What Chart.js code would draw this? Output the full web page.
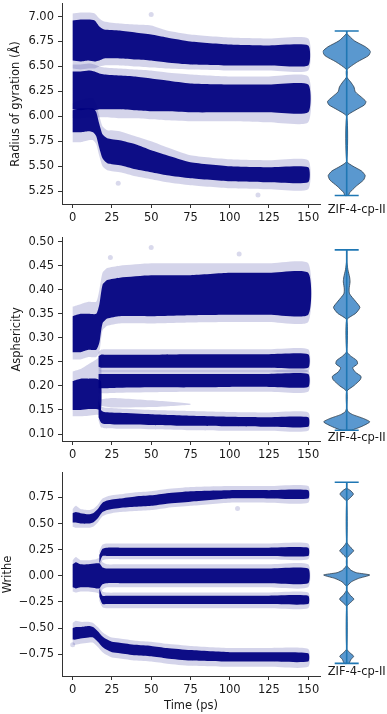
<!DOCTYPE html>
<html lang="en">
<head>
<meta charset="UTF-8">
<title>ZIF-4-cp-II</title>
<script src="https://cdn.jsdelivr.net/npm/chart.js"></script>
<style>
    body { margin: 0; background: #fff; }
    #fig { position: relative; width: 387px; height: 714px; overflow: hidden; }
    #fig canvas { position: absolute; }
</style>
</head>
<body>
<div id="fig"></div>
<script>
// ---- axes ----
const timeTicks = [0, 25, 50, 75, 100, 125, 150];
const rgTicks = [5.25, 5.50, 5.75, 6.00, 6.25, 6.50, 6.75, 7.00];
const aspTicks = [0.10, 0.15, 0.20, 0.25, 0.30, 0.35, 0.40, 0.45, 0.50];
const wrTicks = [-0.75, -0.50, -0.25, 0.00, 0.25, 0.50, 0.75];
const violinLabel = 'ZIF-4-cp-II';

// ---- radius of gyration: three states (dense core + sparse halo) ----
const rgA_t      = [0, 5, 10, 14, 17, 20, 30, 40, 50, 60, 75, 100, 125, 150];
const rgA_hi     = [6.96, 6.97, 6.97, 6.96, 6.90, 6.87, 6.86, 6.84, 6.82, 6.79, 6.75, 6.72, 6.71, 6.71];
const rgA_lo     = [6.56, 6.55, 6.56, 6.55, 6.56, 6.58, 6.58, 6.57, 6.56, 6.54, 6.52, 6.51, 6.51, 6.51];
const rgA_hiHalo = [7.03, 7.04, 7.04, 7.03, 6.98, 6.95, 6.93, 6.92, 6.91, 6.86, 6.82, 6.79, 6.78, 6.78];
const rgA_loHalo = [6.48, 6.47, 6.48, 6.48, 6.50, 6.51, 6.51, 6.50, 6.49, 6.48, 6.47, 6.46, 6.46, 6.46];

const rgB_t      = [0, 5, 10, 14, 17, 20, 30, 40, 50, 60, 75, 100, 125, 150];
const rgB_hi     = [6.45, 6.45, 6.46, 6.45, 6.43, 6.42, 6.41, 6.40, 6.38, 6.36, 6.33, 6.32, 6.32, 6.32];
const rgB_lo     = [6.07, 6.06, 6.07, 6.06, 6.07, 6.07, 6.07, 6.06, 6.05, 6.05, 6.04, 6.04, 6.04, 6.04];
const rgB_hiHalo = [6.52, 6.52, 6.53, 6.52, 6.50, 6.49, 6.48, 6.47, 6.46, 6.44, 6.42, 6.40, 6.40, 6.40];
const rgB_loHalo = [5.98, 5.98, 5.99, 5.98, 5.99, 5.99, 5.98, 5.98, 5.97, 5.96, 5.95, 5.95, 5.94, 5.94];

const rgC_t      = [0, 5, 10, 13, 15, 17, 19, 22, 25, 30, 40, 50, 60, 75, 100, 125, 150];
const rgC_hi     = [6.06, 6.08, 6.08, 6.08, 6.04, 5.92, 5.82, 5.78, 5.77, 5.76, 5.72, 5.66, 5.61, 5.54, 5.50, 5.49, 5.49];
const rgC_lo     = [5.84, 5.84, 5.85, 5.84, 5.80, 5.68, 5.58, 5.53, 5.52, 5.51, 5.47, 5.44, 5.41, 5.38, 5.35, 5.34, 5.34];
const rgC_hiHalo = [6.13, 6.16, 6.18, 6.18, 6.12, 6.00, 5.90, 5.86, 5.86, 5.85, 5.80, 5.75, 5.69, 5.61, 5.57, 5.56, 5.56];
const rgC_loHalo = [5.74, 5.74, 5.76, 5.76, 5.72, 5.60, 5.50, 5.46, 5.45, 5.44, 5.40, 5.37, 5.34, 5.31, 5.28, 5.27, 5.27];

const rgOut_t = [50, 118, 29];
const rgOut_v = [7.02, 5.21, 5.33];

// ---- asphericity ----
const aspU_t      = [0, 5, 10, 15, 17, 19, 22, 30, 50, 75, 100, 125, 150];
const aspU_hi     = [0.345, 0.350, 0.350, 0.350, 0.370, 0.410, 0.420, 0.425, 0.430, 0.430, 0.435, 0.435, 0.435];
const aspU_lo     = [0.270, 0.270, 0.275, 0.275, 0.290, 0.330, 0.340, 0.345, 0.345, 0.347, 0.348, 0.348, 0.348];
const aspU_hiHalo = [0.365, 0.370, 0.375, 0.375, 0.400, 0.435, 0.445, 0.450, 0.455, 0.455, 0.455, 0.455, 0.455];
const aspU_loHalo = [0.255, 0.255, 0.260, 0.260, 0.270, 0.315, 0.325, 0.330, 0.330, 0.332, 0.333, 0.333, 0.333];

const aspL_t      = [0, 5, 10, 15, 18];
const aspL_hi     = [0.210, 0.215, 0.215, 0.215, 0.210];
const aspL_lo     = [0.150, 0.150, 0.152, 0.152, 0.150];
const aspL_hiHalo = [0.230, 0.235, 0.245, 0.255, 0.260];
const aspL_loHalo = [0.137, 0.137, 0.138, 0.140, 0.140];

const aspM1_t      = [16.5, 18, 20, 30, 50, 75, 100, 125, 150];
const aspM1_hi     = [0.262, 0.265, 0.265, 0.265, 0.265, 0.266, 0.266, 0.266, 0.266];
const aspM1_lo     = [0.240, 0.238, 0.238, 0.238, 0.238, 0.238, 0.238, 0.238, 0.238];
const aspM1_hiHalo = [0.270, 0.275, 0.276, 0.276, 0.276, 0.276, 0.276, 0.276, 0.276];
const aspM1_loHalo = [0.232, 0.230, 0.230, 0.230, 0.230, 0.230, 0.230, 0.230, 0.230];

const aspM2_t      = [16.5, 18, 20, 30, 50, 75, 100, 125, 150];
const aspM2_hi     = [0.225, 0.225, 0.225, 0.225, 0.225, 0.225, 0.225, 0.225, 0.225];
const aspM2_lo     = [0.195, 0.195, 0.195, 0.196, 0.197, 0.197, 0.198, 0.198, 0.198];
const aspM2_hiHalo = [0.232, 0.232, 0.232, 0.232, 0.232, 0.232, 0.232, 0.232, 0.232];
const aspM2_loHalo = [0.185, 0.185, 0.185, 0.186, 0.187, 0.188, 0.188, 0.188, 0.188];

// faint short-lived state near 0.16
const aspF_t      = [18, 25, 50, 75];
const aspF_hiHalo = [0.172, 0.175, 0.170, 0.163];
const aspF_loHalo = [0.158, 0.155, 0.156, 0.161];

const aspB_t      = [16.5, 18, 20, 30, 50, 75, 100, 125, 150];
const aspB_hi     = [0.170, 0.150, 0.146, 0.144, 0.141, 0.138, 0.136, 0.135, 0.135];
const aspB_lo     = [0.135, 0.124, 0.121, 0.120, 0.119, 0.117, 0.116, 0.115, 0.115];
const aspB_hiHalo = [0.180, 0.158, 0.155, 0.153, 0.150, 0.148, 0.146, 0.145, 0.145];
const aspB_loHalo = [0.128, 0.114, 0.112, 0.111, 0.110, 0.108, 0.107, 0.107, 0.107];

const aspOut_t = [50, 24, 106];
const aspOut_v = [0.488, 0.467, 0.474];

// ---- writhe ----
const wr1_t      = [0, 2, 5, 10, 13, 16, 19, 22, 25, 30, 40, 50, 60, 75, 100, 125, 150];
const wr1_hi     = [0.60, 0.61, 0.60, 0.59, 0.60, 0.64, 0.70, 0.72, 0.73, 0.74, 0.76, 0.77, 0.79, 0.81, 0.82, 0.82, 0.82];
const wr1_lo     = [0.51, 0.51, 0.50, 0.50, 0.51, 0.55, 0.61, 0.63, 0.64, 0.65, 0.66, 0.67, 0.69, 0.71, 0.74, 0.74, 0.74];
const wr1_hiHalo = [0.64, 0.67, 0.64, 0.63, 0.64, 0.68, 0.74, 0.76, 0.77, 0.78, 0.80, 0.81, 0.83, 0.85, 0.86, 0.86, 0.86];
const wr1_loHalo = [0.47, 0.46, 0.46, 0.46, 0.47, 0.51, 0.57, 0.59, 0.60, 0.61, 0.62, 0.63, 0.65, 0.67, 0.70, 0.70, 0.70];

const wr2_t      = [17, 19, 22, 30, 50, 75, 100, 125, 150];
const wr2_hi     = [0.20, 0.26, 0.27, 0.27, 0.27, 0.27, 0.27, 0.27, 0.27];
const wr2_lo     = [0.12, 0.19, 0.19, 0.19, 0.19, 0.19, 0.19, 0.19, 0.19];
const wr2_hiHalo = [0.24, 0.30, 0.31, 0.31, 0.31, 0.31, 0.31, 0.31, 0.31];
const wr2_loHalo = [0.10, 0.15, 0.16, 0.16, 0.16, 0.16, 0.16, 0.16, 0.16];

const wr3_t      = [0, 2, 5, 10, 15, 17, 19, 22, 30, 50, 75, 100, 125, 150];
const wr3_hi     = [0.11, 0.13, 0.11, 0.11, 0.12, 0.12, 0.08, 0.07, 0.07, 0.07, 0.07, 0.07, 0.07, 0.07];
const wr3_lo     = [-0.11, -0.12, -0.11, -0.11, -0.12, -0.12, -0.08, -0.07, -0.07, -0.07, -0.07, -0.07, -0.07, -0.07];
const wr3_hiHalo = [0.15, 0.18, 0.15, 0.15, 0.16, 0.17, 0.13, 0.11, 0.11, 0.11, 0.11, 0.11, 0.11, 0.11];
const wr3_loHalo = [-0.15, -0.16, -0.15, -0.15, -0.16, -0.17, -0.13, -0.11, -0.11, -0.11, -0.11, -0.11, -0.11, -0.11];

const wr4_t      = [17, 19, 22, 30, 50, 75, 100, 125, 150];
const wr4_hi     = [-0.12, -0.19, -0.19, -0.19, -0.19, -0.19, -0.19, -0.19, -0.19];
const wr4_lo     = [-0.20, -0.27, -0.27, -0.27, -0.27, -0.27, -0.27, -0.27, -0.27];
const wr4_hiHalo = [-0.10, -0.15, -0.16, -0.16, -0.16, -0.16, -0.16, -0.16, -0.16];
const wr4_loHalo = [-0.24, -0.30, -0.31, -0.31, -0.31, -0.31, -0.31, -0.31, -0.31];

const wr5_t      = [0, 2, 5, 10, 13, 16, 19, 22, 25, 30, 40, 50, 60, 75, 100, 125, 150];
const wr5_hi     = [-0.50, -0.49, -0.49, -0.48, -0.49, -0.53, -0.58, -0.61, -0.63, -0.64, -0.66, -0.67, -0.69, -0.71, -0.73, -0.73, -0.74];
const wr5_lo     = [-0.61, -0.61, -0.60, -0.59, -0.59, -0.63, -0.68, -0.71, -0.73, -0.74, -0.76, -0.77, -0.79, -0.81, -0.82, -0.82, -0.82];
const wr5_hiHalo = [-0.45, -0.43, -0.44, -0.44, -0.45, -0.49, -0.54, -0.57, -0.59, -0.60, -0.62, -0.63, -0.65, -0.67, -0.69, -0.69, -0.70];
const wr5_loHalo = [-0.66, -0.66, -0.65, -0.64, -0.64, -0.68, -0.73, -0.76, -0.78, -0.79, -0.81, -0.82, -0.84, -0.86, -0.87, -0.87, -0.87];

const wrOut_t = [105, 0];
const wrOut_v = [0.645, -0.66];

// ---- violins: value and half width (1 = widest) ----
const rgViolinY = [5.206, 5.233, 5.30, 5.36, 5.405, 5.45, 5.50, 5.547, 5.995, 6.06, 6.11, 6.144, 6.19, 6.24, 6.29, 6.34, 6.39, 6.46, 6.54, 6.60, 6.642, 6.69, 6.75, 6.825, 6.848];
const rgViolinW = [0.08, 0.12, 0.40, 0.70, 0.77, 0.62, 0.25, 0, 0, 0.38, 0.74, 0.80, 0.60, 0.36, 0.30, 0.16, 0, 0, 0.45, 0.90, 1.00, 0.78, 0.32, 0, 0];
const aspViolinY = [0.1077, 0.115, 0.125, 0.132, 0.140, 0.146, 0.155, 0.188, 0.200, 0.212, 0.219, 0.228, 0.237, 0.245, 0.252, 0.262, 0.271, 0.336, 0.350, 0.362, 0.375, 0.390, 0.400, 0.415, 0.425, 0.440, 0.460, 0.481];
const aspViolinW = [0.20, 0.60, 0.96, 0.70, 0.25, 0.06, 0, 0, 0.30, 0.56, 0.60, 0.36, 0.25, 0.45, 0.42, 0.15, 0, 0, 0.38, 0.55, 0.36, 0.12, 0.10, 0.14, 0.12, 0.05, 0, 0];
const wrViolinY = [-0.838, -0.80, -0.77, -0.74, -0.70, -0.298, -0.26, -0.225, -0.19, -0.139, -0.108, -0.06, -0.028, 0.004, 0.026, 0.051, 0.099, 0.163, 0.20, 0.235, 0.27, 0.321, 0.704, 0.74, 0.775, 0.81, 0.833, 0.887];
const wrViolinW = [0.10, 0.18, 0.29, 0.15, 0, 0, 0.15, 0.30, 0.15, 0, 0, 0.20, 0.50, 0.96, 0.40, 0.17, 0, 0, 0.15, 0.29, 0.15, 0, 0, 0.15, 0.28, 0.15, 0, 0];

const NAVY = 'rgba(0, 0, 128, 0.94)';
const NAVY_HALO = 'rgba(0, 0, 128, 0.17)';
const INK = '#1a1a1a';

Chart.defaults.font.family = '"DejaVu Sans", sans-serif';
Chart.defaults.font.size = 11.5;
Chart.defaults.color = INK;

function addCanvas(left, top, w, h) {
    const c = document.createElement('canvas');
    c.width = w;
    c.height = h;
    c.style.left = left + 'px';
    c.style.top = top + 'px';
    c.style.width = w + 'px';
    c.style.height = h + 'px';
    document.getElementById('fig').appendChild(c);
    return c.getContext('2d');
}

// closed polygon: upper edge left->right, lower edge back
function bandShape(t, lo, hi, color, order) {
    const pts = t.map((x, i) => ({ x: x, y: hi[i] }));
    for (let i = t.length - 1; i >= 0; i--) pts.push({ x: t[i], y: lo[i] });
    return {
        data: pts, fill: 'shape', backgroundColor: color, borderColor: 'transparent',
        pointRadius: 0, tension: 0.2, order: order
    };
}

function fmt(v) {
    return v.toFixed(2).replace('-', '\u2212');
}

function scatterPanel(p) {
    const ds = [];
    p.bands.forEach(b => {
        if (b.loHalo) ds.push(bandShape(b.t, b.loHalo, b.hiHalo, NAVY_HALO, 3));
        if (b.lo) ds.push(bandShape(b.t, b.lo, b.hi, NAVY, 2));
    });
    ds.push({
        data: p.outT.map((x, i) => ({ x: x, y: p.outV[i] })),
        showLine: false, pointRadius: 2.5, pointBorderWidth: 0,
        pointBackgroundColor: 'rgba(0, 0, 128, 0.15)', order: 1
    });

    const ctx = addCanvas(0, p.top, 324, p.h);
    new Chart(ctx, {
        type: 'line',
        data: { datasets: ds },
        options: {
            responsive: false,
            animation: false,
            devicePixelRatio: 1,
            layout: { padding: { top: 10, right: 4, bottom: 0, left: 0 } },
            plugins: { legend: { display: false }, tooltip: { enabled: false } },
            scales: {
                x: {
                    type: 'linear', min: -6.8, max: 157.5,
                    afterBuildTicks: s => { s.ticks = timeTicks.map(v => ({ value: v })); },
                    afterFit: s => { s.height = p.axisH; },
                    ticks: { padding: 3, color: INK, callback: v => String(v) },
                    grid: { display: true, drawOnChartArea: false, drawTicks: true, tickLength: 4, color: '#333' },
                    border: { display: true, color: '#333', width: 1 },
                    title: {
                        display: !!p.xTitle, text: p.xTitle || '', color: INK,
                        font: { size: 11.5 }, padding: { top: 0, bottom: 1.2 }
                    }
                },
                y: {
                    type: 'linear', min: p.yMin, max: p.yMax,
                    afterBuildTicks: s => { s.ticks = p.yTicks.map(v => ({ value: v })); },
                    afterFit: s => { s.width = 62; },
                    ticks: { padding: 4, color: INK, callback: v => fmt(v) },
                    grid: { display: true, drawOnChartArea: false, drawTicks: true, tickLength: 4, color: '#333' },
                    border: { display: true, color: '#333', width: 1 },
                    title: {
                        display: true, text: p.yTitle, color: INK,
                        font: { size: 11.5 }, padding: { top: p.titlePad, bottom: 0 }
                    }
                }
            }
        }
    });
}

function violinPanel(p) {
    const right = p.vy.map((y, i) => ({ x: p.vw[i], y: y }));
    const left = p.vy.map((y, i) => ({ x: -p.vw[i], y: y })).reverse();
    const body = right.concat(left, [right[0]]);
    const yLo = p.vy[0], yHi = p.vy[p.vy.length - 1];
    const lineStyle = { borderColor: '#1f77b4', borderWidth: 1.6, pointRadius: 0, fill: false, tension: 0 };

    const ctx = addCanvas(300, p.top, 87, p.h);
    new Chart(ctx, {
        type: 'line',
        data: {
            datasets: [
                Object.assign({ data: [{ x: 0, y: yLo }, { x: 0, y: yHi }], order: 1 }, lineStyle),
                Object.assign({ data: [{ x: -0.5, y: yHi }, { x: 0.5, y: yHi }], order: 1 }, lineStyle),
                Object.assign({ data: [{ x: -0.5, y: yLo }, { x: 0.5, y: yLo }], order: 1 }, lineStyle),
                {
                    data: body, fill: 'shape', backgroundColor: '#5a98cf',
                    borderColor: '#2f3d4c', borderWidth: 0.8, pointRadius: 0, tension: 0.2, order: 2
                }
            ]
        },
        options: {
            responsive: false,
            animation: false,
            devicePixelRatio: 1,
            layout: { padding: { top: 10, right: 16.3, bottom: 0, left: 22.7 } },
            plugins: { legend: { display: false }, tooltip: { enabled: false } },
            scales: {
                x: {
                    type: 'linear', min: -1, max: 1,
                    afterBuildTicks: s => { s.ticks = [{ value: 0 }]; },
                    afterFit: s => { s.height = p.vAxisH; },
                    ticks: { padding: 0, labelOffset: 10, color: INK, callback: () => violinLabel },
                    grid: { display: false, drawTicks: false },
                    border: { display: false }
                },
                y: { type: 'linear', min: p.vyMin, max: p.yMax, display: false }
            }
        }
    });
}

const panels = [
    {
        top: -7, h: 233, axisH: 22, yMin: 5.121, yMax: 7.127, yTicks: rgTicks,
        yTitle: 'Radius of gyration (\u00C5)', titlePad: 9, vAxisH: 22.9, vyMin: 5.130,
        bands: [
            { t: rgA_t, lo: rgA_lo, hi: rgA_hi, loHalo: rgA_loHalo, hiHalo: rgA_hiHalo },
            { t: rgB_t, lo: rgB_lo, hi: rgB_hi, loHalo: rgB_loHalo, hiHalo: rgB_hiHalo },
            { t: rgC_t, lo: rgC_lo, hi: rgC_hi, loHalo: rgC_loHalo, hiHalo: rgC_hiHalo }
        ],
        outT: rgOut_t, outV: rgOut_v, vy: rgViolinY, vw: rgViolinW
    },
    {
        top: 227, h: 236, axisH: 22, yMin: 0.0855, yMax: 0.5077, yTicks: aspTicks,
        yTitle: 'Asphericity', titlePad: 10, vAxisH: 31.6, vyMin: 0.1053,
        bands: [
            { t: aspU_t, lo: aspU_lo, hi: aspU_hi, loHalo: aspU_loHalo, hiHalo: aspU_hiHalo },
            { t: aspL_t, lo: aspL_lo, hi: aspL_hi, loHalo: aspL_loHalo, hiHalo: aspL_hiHalo },
            { t: aspM1_t, lo: aspM1_lo, hi: aspM1_hi, loHalo: aspM1_loHalo, hiHalo: aspM1_hiHalo },
            { t: aspM2_t, lo: aspM2_lo, hi: aspM2_hi, loHalo: aspM2_loHalo, hiHalo: aspM2_hiHalo },
            { t: aspF_t, loHalo: aspF_loHalo, hiHalo: aspF_hiHalo },
            { t: aspB_t, lo: aspB_lo, hi: aspB_hi, loHalo: aspB_loHalo, hiHalo: aspB_hiHalo }
        ],
        outT: aspOut_t, outV: aspOut_v, vy: aspViolinY, vw: aspViolinW
    },
    {
        top: 462, h: 252, axisH: 38, yMin: -0.958, yMax: 0.985, yTicks: wrTicks,
        yTitle: 'Writhe', titlePad: 1, xTitle: 'Time (ps)', vAxisH: 48.6, vyMin: -0.857,
        bands: [
            { t: wr1_t, lo: wr1_lo, hi: wr1_hi, loHalo: wr1_loHalo, hiHalo: wr1_hiHalo },
            { t: wr2_t, lo: wr2_lo, hi: wr2_hi, loHalo: wr2_loHalo, hiHalo: wr2_hiHalo },
            { t: wr3_t, lo: wr3_lo, hi: wr3_hi, loHalo: wr3_loHalo, hiHalo: wr3_hiHalo },
            { t: wr4_t, lo: wr4_lo, hi: wr4_hi, loHalo: wr4_loHalo, hiHalo: wr4_hiHalo },
            { t: wr5_t, lo: wr5_lo, hi: wr5_hi, loHalo: wr5_loHalo, hiHalo: wr5_hiHalo }
        ],
        outT: wrOut_t, outV: wrOut_v, vy: wrViolinY, vw: wrViolinW
    }
];

panels.forEach(p => {
    scatterPanel(p);
    violinPanel(p);
});
</script>
</body>
</html>
